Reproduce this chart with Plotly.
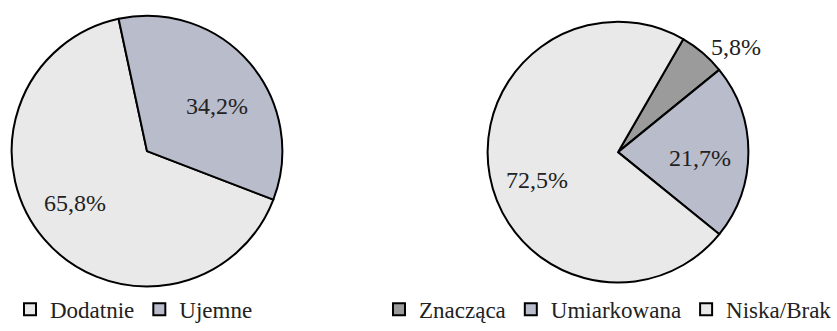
import math
import plotly.graph_objects as go

# ---- data ----
left_labels = ["Dodatnie", "Ujemne"]
left_values = [65.8, 34.2]
right_labels = ["Znacząca", "Umiarkowana", "Niska/Brak"]
right_values = [5.8, 21.7, 72.5]

# ---- styles / layout ----
W, H = 837, 331
FONT = "Liberation Serif, Times New Roman, serif"
left_colors = ["#e9e9e9", "#b9bccb"]
right_colors = ["#9b9b9b", "#b9bccb", "#e9e9e9"]
left_rot = 111      # first slice start, degrees clockwise from 12 o'clock
right_rot = 30
L_CX, L_CY, L_R = 147, 153, 137
R_CX, R_CY, R_R = 618, 154, 132
# (radius fraction, angle offset in degrees, x anchor) per label
left_label_pos = [(0.65, 4.5, "center"), (0.61, 7.5, "center")]
right_label_pos = [(1.06, 0, "left"), (0.62, 4, "center"), (0.65, -8.5, "center")]


def domain(cx, cy, r):
    return dict(x=[(cx - r) / W, (cx + r) / W],
                y=[1 - (cy + r) / H, 1 - (cy - r) / H])


def label_annotations(values, rot, cx, cy, r, positions):
    total = sum(values)
    ann = []
    start = rot
    for v, (f, off, xa) in zip(values, positions):
        span = 360.0 * v / total
        mid = math.radians(start + span / 2 + off)
        x = cx + f * r * math.sin(mid)
        y = cy - f * r * math.cos(mid)
        ann.append(dict(x=x / W, y=1 - y / H, xref="paper", yref="paper",
                        xanchor=xa, yanchor="middle",
                        text=f"{v:.1f}%".replace(".", ","), showarrow=False,
                        font=dict(family=FONT, size=24, color="#222222")))
        start += span
    return ann


fig = go.Figure()
fig.add_trace(go.Pie(
    labels=left_labels, values=left_values, sort=False, direction="clockwise",
    rotation=left_rot, textinfo="none", hoverinfo="label+percent",
    marker=dict(colors=left_colors, line=dict(color="#000000", width=2)),
    domain=domain(L_CX, L_CY, L_R), legend="legend"))
fig.add_trace(go.Pie(
    labels=right_labels, values=right_values, sort=False, direction="clockwise",
    rotation=right_rot, textinfo="none", hoverinfo="label+percent",
    marker=dict(colors=right_colors, line=dict(color="#000000", width=2)),
    domain=domain(R_CX, R_CY, R_R), legend="legend2"))

anns = label_annotations(left_values, left_rot, L_CX, L_CY, L_R, left_label_pos)
anns += label_annotations(right_values, right_rot, R_CX, R_CY, R_R, right_label_pos)

legend_common = dict(orientation="h", yanchor="middle", y=1 - 313 / H,
                     font=dict(family=FONT, size=23, color="#222222"),
                     itemwidth=30, bgcolor="rgba(0,0,0,0)", tracegroupgap=0)
fig.update_layout(
    width=W, height=H, margin=dict(l=0, r=0, t=0, b=0),
    paper_bgcolor="white", plot_bgcolor="white",
    showlegend=True,
    legend=dict(legend_common, xanchor="left", x=10 / W),
    legend2=dict(legend_common, xanchor="right", x=1.0),
    annotations=anns,
)
fig.write_html("out.html")
